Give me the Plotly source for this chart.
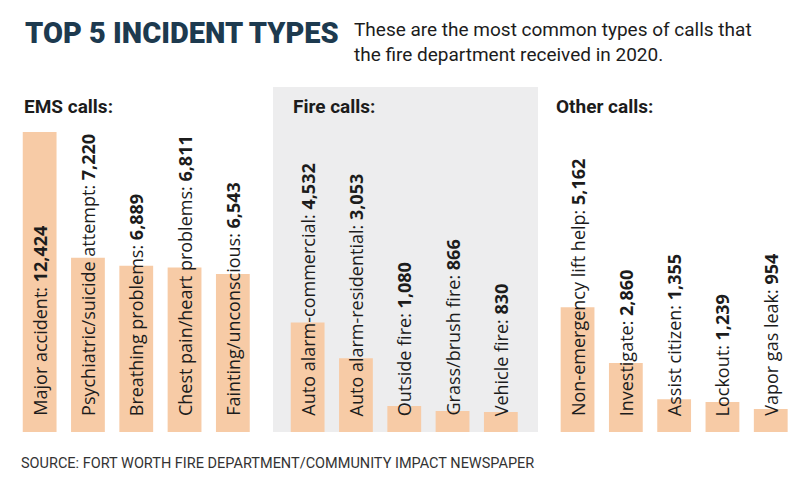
import plotly.graph_objects as go

ems_types = ["Major accident", "Psychiatric/suicide attempt", "Breathing problems",
             "Chest pain/heart problems", "Fainting/unconscious"]
ems_counts = [12424, 7220, 6889, 6811, 6543]

fire_types = ["Auto alarm-commercial", "Auto alarm-residential", "Outside fire",
              "Grass/brush fire", "Vehicle fire"]
fire_counts = [4532, 3053, 1080, 866, 830]

other_types = ["Non-emergency lift help", "Investigate", "Assist citizen",
               "Lockout", "Vapor gas leak"]
other_counts = [5162, 2860, 1355, 1239, 954]

panel_titles = ["EMS calls:", "Fire calls:", "Other calls:"]

W, H = 800, 487
OFF = 8  # page body margin, so positions below are screen px minus this
TOP, BOTTOM = 87 - OFF, 432 - OFF  # plot area in figure pixels
BAR = "#f7cba6"
GREY = "#ededee"
INK = "#1c1c1c"
NAVY = "#1d3a4f"


def px(x):
    return (x - OFF) / W


def py(y):
    return (BOTTOM - (y - OFF)) / (BOTTOM - TOP)


panels = [(ems_types, ems_counts), (fire_types, fire_counts), (other_types, other_counts)]
axes = ["x", "x2", "x3"]
# screen pixel spans of the 5-slot category axes
spans = [(15.5, 257.0), (283.5, 525.0), (553.4, 794.9)]
header_x = [22, 291, 554]

ymax = max(ems_counts) * (BOTTOM - TOP) / 300.0

fig = go.Figure()
annotations = []
for i, (types, counts) in enumerate(panels):
    xa = axes[i]
    fig.add_trace(go.Bar(x=list(range(len(types))), y=counts, xaxis=xa, yaxis="y",
                         marker=dict(color=BAR, line=dict(width=0)),
                         hoverinfo="skip", showlegend=False))
    for j, (t, c) in enumerate(zip(types, counts)):
        annotations.append(dict(
            x=j, y=0, xref=xa, yref="y", yshift=14,
            text=f"{t}: <b>{c:,}</b>", textangle=-90,
            xanchor="center", yanchor="bottom", showarrow=False,
            font=dict(family="Open Sans", size=18, color=INK)))
    annotations.append(dict(
        x=px(header_x[i]), y=py(106), xref="paper", yref="paper",
        text=f"<b>{panel_titles[i]}</b>", xanchor="left", yanchor="middle",
        showarrow=False, font=dict(family="Roboto", size=19, color=INK)))

annotations += [
    dict(x=px(23), y=py(33), xref="paper", yref="paper",
         text="TOP 5 INCIDENT TYPES", xanchor="left", yanchor="middle", showarrow=False,
         font=dict(family="Roboto", size=29, color=NAVY, weight=900)),
    dict(x=px(352), y=py(16), xref="paper", yref="paper",
         text="These are the most common types of calls that<br>the fire department received in 2020.",
         xanchor="left", yanchor="top", align="left", showarrow=False,
         font=dict(family="Roboto", size=19, color=INK)),
    dict(x=px(19), y=py(463), xref="paper", yref="paper",
         text="SOURCE: FORT WORTH FIRE DEPARTMENT/COMMUNITY IMPACT NEWSPAPER",
         xanchor="left", yanchor="middle", showarrow=False,
         font=dict(family="Roboto", size=14.5, color="#333333")),
]

layout = dict(
    width=W, height=H,
    margin=dict(l=0, r=0, t=TOP, b=H - BOTTOM),
    paper_bgcolor="white", plot_bgcolor="rgba(0,0,0,0)",
    bargap=0.3,
    yaxis=dict(range=[0, ymax], visible=False, fixedrange=True),
    annotations=annotations,
    shapes=[dict(type="rect", xref="paper", yref="paper",
                 x0=px(273), x1=px(538), y0=0, y1=1,
                 fillcolor=GREY, line=dict(width=0), layer="below")],
)
for i, xa in enumerate(axes):
    key = "xaxis" if xa == "x" else "xaxis" + xa[1:]
    layout[key] = dict(domain=[px(spans[i][0]), px(spans[i][1])], range=[-0.5, 4.5],
                       visible=False, fixedrange=True, anchor="y")

fig.update_layout(**layout)
fig.write_html("out.html")
